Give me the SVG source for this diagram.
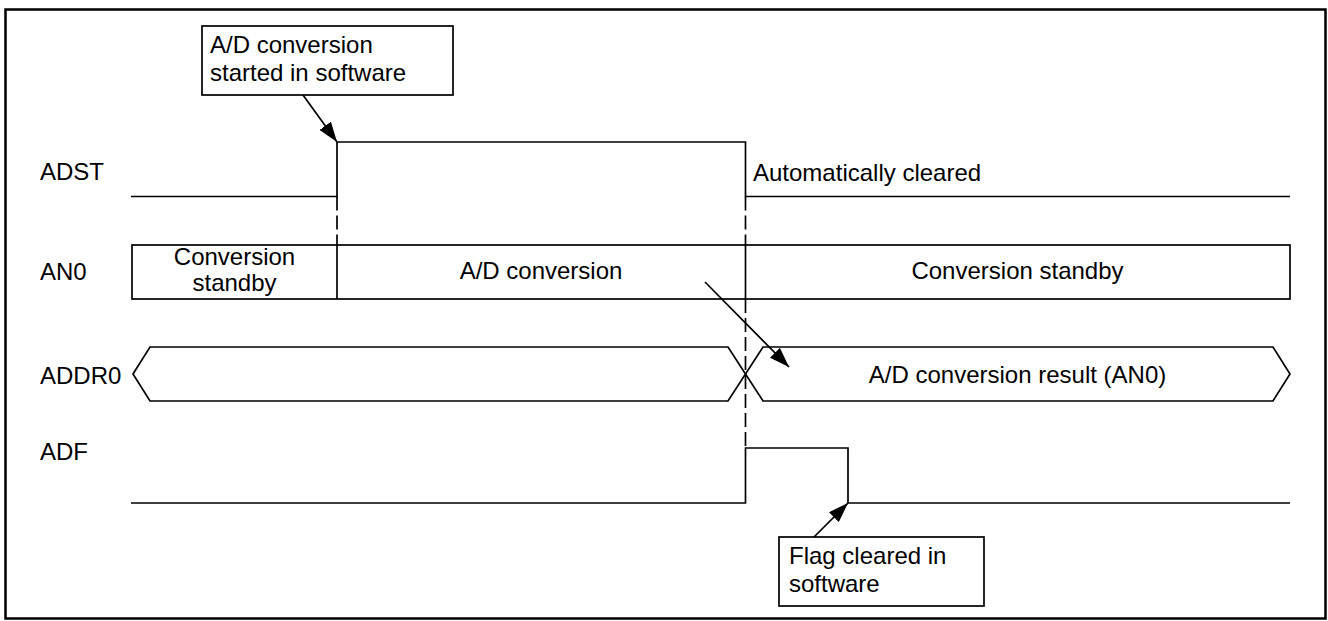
<svg xmlns="http://www.w3.org/2000/svg" width="1328" height="621" viewBox="0 0 1328 621">
<style>
  text { font-family: "Liberation Sans", Arial, sans-serif; font-size: 24px; fill: #000; }
  .c { text-anchor: middle; }
  .ln { fill: none; stroke: #000; stroke-width: 1.7; }
  .dash { fill: none; stroke: #000; stroke-width: 1.7; stroke-dasharray: 14 5; }
  .box { fill: #fff; stroke: #000; stroke-width: 1.7; }
  .arr { fill: none; stroke: #000; stroke-width: 1.7; marker-end: url(#ah); }
</style>
<defs>
  <marker id="ah" viewBox="0 0 20 14" refX="20" refY="7" markerWidth="20" markerHeight="14" markerUnits="userSpaceOnUse" orient="auto">
    <path d="M0,0 L20,7 L0,14 z" fill="#000"/>
  </marker>
</defs>
<rect x="5.5" y="9.5" width="1320" height="609" fill="#fff" stroke="#000" stroke-width="2.5"/>

<g id="labels">
  <text x="40" y="180">ADST</text>
  <text x="40" y="280">AN0</text>
  <text x="40" y="384">ADDR0</text>
  <text x="40" y="460">ADF</text>
</g>

<g id="adst">
  <path class="ln" d="M131,196.5 H337 V142 H745.5 V196.5 H1290"/>
  <text x="753" y="181">Automatically cleared</text>
</g>

<g id="an0">
  <rect class="ln" x="132" y="245" width="1158" height="54"/>
  <line class="ln" x1="337" y1="245" x2="337" y2="299"/>
  <line class="ln" x1="745.5" y1="245" x2="745.5" y2="299"/>
  <text class="c" x="234.5" y="265" font-size="23">Conversion</text>
  <text class="c" x="234.5" y="291" font-size="23">standby</text>
  <text class="c" x="541" y="279">A/D conversion</text>
  <text class="c" x="1017.5" y="279">Conversion standby</text>
</g>

<g id="addr0">
  <path class="ln" d="M133,374 L150,347 H728 L745.5,374 L728,401 H150 Z"/>
  <path class="ln" d="M745.5,374 L763,347 H1273 L1290,374 L1273,401 H763 Z"/>
  <text class="c" x="1017.5" y="383">A/D conversion result (AN0)</text>
</g>

<g id="adf">
  <path class="ln" d="M131,503 H745.5 V448 H848 V503 H1290"/>
</g>

<g id="callout-start">
  <rect class="box" x="202" y="26" width="251" height="69"/>
  <text x="210" y="53">A/D conversion</text>
  <text x="210" y="81">started in software</text>
</g>

<g id="callout-clear">
  <rect class="box" x="779" y="537" width="205" height="69"/>
  <text x="789" y="564">Flag cleared in</text>
  <text x="789" y="592">software</text>
</g>

<g id="connectors">
  <line class="dash" x1="337" y1="196.5" x2="337" y2="245"/>
  <line class="dash" x1="745.5" y1="196.5" x2="745.5" y2="245"/>
  <line class="dash" x1="745.5" y1="299" x2="745.5" y2="448"/>
  <line class="arr" x1="303" y1="95" x2="337" y2="142"/>
  <line class="arr" x1="705" y1="282" x2="789" y2="367"/>
  <line class="arr" x1="814" y1="537" x2="848" y2="503"/>
</g>
</svg>
